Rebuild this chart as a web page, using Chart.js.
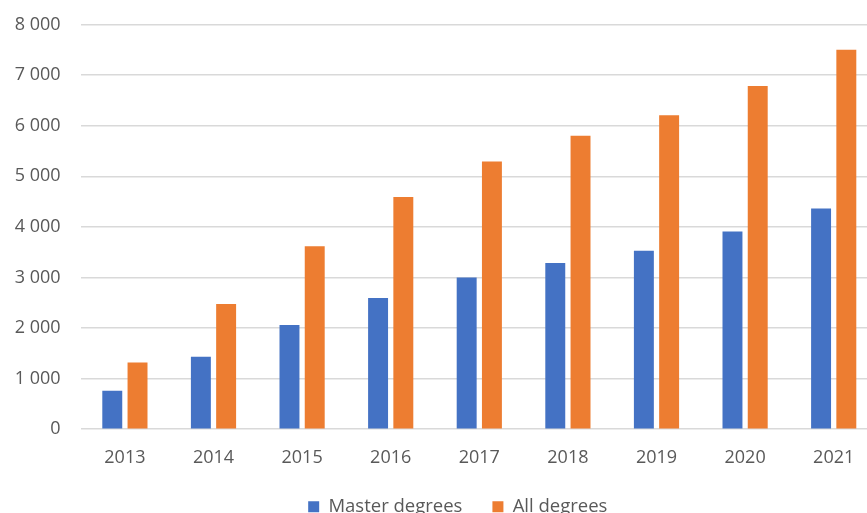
<!DOCTYPE html>
<html>
<head>
<meta charset="utf-8">
<script src="https://cdn.jsdelivr.net/npm/chart.js@4/dist/chart.umd.min.js"></script>
<style>
  html, body { margin: 0; padding: 0; overflow: hidden; background: #ffffff; }
  #wrap { width: 910px; height: 526px; }
</style>
</head>
<body>
<div id="wrap"><canvas id="c" width="910" height="526"></canvas></div>
<script>
// Graduates per year
const years = ['2013', '2014', '2015', '2016', '2017', '2018', '2019', '2020', '2021'];
const masterDegrees = [760, 1430, 2060, 2595, 3000, 3285, 3530, 3910, 4365];
const allDegrees = [1320, 2475, 3615, 4590, 5290, 5800, 6205, 6785, 7500];
const yTickLabels = ['0', '1 000', '2 000', '3 000', '4 000', '5 000', '6 000', '7 000', '8 000'];

const textColor = '#595959';
const fontFamily = '"Open Sans", "DejaVu Sans", sans-serif';

// Nudge the legend row sideways after layout so it sits under the whole figure
const legendOffset = {
  id: 'legendOffset',
  afterLayout(chart) {
    const lg = chart.legend;
    if (lg) { lg.left += 12.5; lg.right += 12.5; }
  }
};

new Chart(document.getElementById('c'), {
  type: 'bar',
  data: {
    labels: years,
    datasets: [
      { label: 'Master degrees', data: masterDegrees, backgroundColor: '#4472C4',
        categoryPercentage: 0.57, barPercentage: 0.79 },
      { label: 'All degrees', data: allDegrees, backgroundColor: '#ED7D31',
        categoryPercentage: 0.57, barPercentage: 0.79 }
    ]
  },
  plugins: [legendOffset],
  options: {
    responsive: false,
    animation: false,
    layout: { padding: { left: 12.6, right: 32, top: 24.5, bottom: 0 } },
    plugins: {
      tooltip: { enabled: false },
      legend: {
        position: 'bottom',
        labels: {
          color: textColor,
          font: { family: fontFamily, size: 18.5 },
          boxWidth: 11,
          boxHeight: 11,
          padding: 30
        }
      }
    },
    scales: {
      x: {
        grid: { display: false, drawTicks: false },
        border: { display: false },
        afterFit: s => { s.height = 38.3; },
        ticks: {
          color: textColor,
          font: { family: fontFamily, size: 18 },
          padding: 17.5,
          maxRotation: 0
        }
      },
      y: {
        min: 0,
        max: 8000,
        grid: { color: '#D9D9D9', lineWidth: 1.5, drawTicks: true, tickLength: 16, tickColor: 'rgba(0,0,0,0)' },
        border: { display: false },
        afterFit: s => { s.width = 68; },
        ticks: {
          stepSize: 1000,
          color: textColor,
          font: { family: fontFamily, size: 18 },
          padding: 4,
          callback: v => yTickLabels[Math.round(v / 1000)]
        }
      }
    }
  }
});
</script>
</body>
</html>
